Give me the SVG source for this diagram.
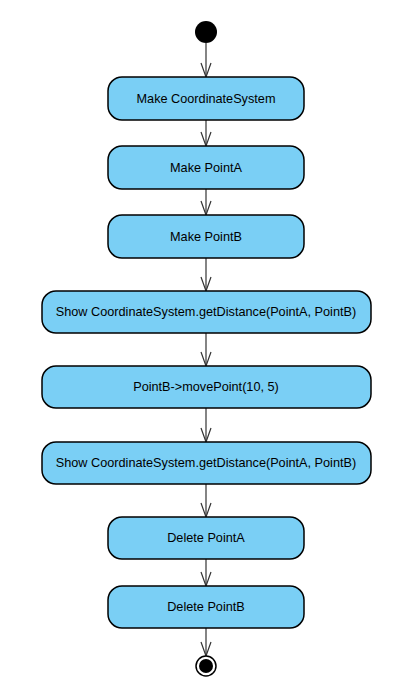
<svg xmlns="http://www.w3.org/2000/svg" width="417" height="694" viewBox="0 0 417 694">
<defs>
<style>
.act{fill:#7acff5;stroke:#000;stroke-width:1.5}
.lbl{font-family:"Liberation Sans",Arial,sans-serif;font-size:12.7px;fill:#000;text-anchor:middle;dominant-baseline:central}
.edge{stroke:#333;stroke-width:1.2;fill:none}
.head{stroke:#333;stroke-width:1.2;fill:none}
</style>
<marker id="arr" viewBox="0 0 16 12" refX="15" refY="6" markerWidth="16" markerHeight="12" markerUnits="userSpaceOnUse" orient="auto">
<path d="M1,1 L15,6 L1,11" class="head"/>
</marker>
</defs>
<rect width="417" height="694" fill="#fff"/>
<g id="connectors">
<line class="edge" x1="206" y1="43" x2="206" y2="77" marker-end="url(#arr)"/>
<line class="edge" x1="206" y1="120" x2="206" y2="146" marker-end="url(#arr)"/>
<line class="edge" x1="206" y1="189" x2="206" y2="215" marker-end="url(#arr)"/>
<line class="edge" x1="206" y1="258" x2="206" y2="291" marker-end="url(#arr)"/>
<line class="edge" x1="206" y1="333" x2="206" y2="366" marker-end="url(#arr)"/>
<line class="edge" x1="206" y1="408" x2="206" y2="442" marker-end="url(#arr)"/>
<line class="edge" x1="206" y1="484" x2="206" y2="517" marker-end="url(#arr)"/>
<line class="edge" x1="206" y1="559" x2="206" y2="586" marker-end="url(#arr)"/>
<line class="edge" x1="206" y1="628" x2="206" y2="656" marker-end="url(#arr)"/>
</g>
<g id="start"><circle cx="206" cy="32" r="11" fill="#000"/></g>
<g id="n1"><rect class="act" x="108" y="77" width="196" height="43" rx="14"/><text class="lbl" x="206" y="98.5">Make CoordinateSystem</text></g>
<g id="n2"><rect class="act" x="108" y="146" width="196" height="43" rx="14"/><text class="lbl" x="206" y="167.5">Make PointA</text></g>
<g id="n3"><rect class="act" x="108" y="215" width="196" height="43" rx="14"/><text class="lbl" x="206" y="236.5">Make PointB</text></g>
<g id="n4"><rect class="act" x="42" y="291" width="329" height="42" rx="14"/><text class="lbl" x="206" y="312">Show CoordinateSystem.getDistance(PointA, PointB)</text></g>
<g id="n5"><rect class="act" x="42" y="366" width="329" height="42" rx="14"/><text class="lbl" x="206" y="387">PointB-&gt;movePoint(10, 5)</text></g>
<g id="n6"><rect class="act" x="42" y="442" width="329" height="42" rx="14"/><text class="lbl" x="206" y="463">Show CoordinateSystem.getDistance(PointA, PointB)</text></g>
<g id="n7"><rect class="act" x="108" y="517" width="196" height="42" rx="14"/><text class="lbl" x="206" y="538">Delete PointA</text></g>
<g id="n8"><rect class="act" x="108" y="586" width="196" height="42" rx="14"/><text class="lbl" x="206" y="607">Delete PointB</text></g>
<g id="end"><circle cx="206" cy="666" r="10" fill="#fff" stroke="#000" stroke-width="1.5"/><circle cx="206" cy="666" r="7" fill="#000"/></g>
</svg>
